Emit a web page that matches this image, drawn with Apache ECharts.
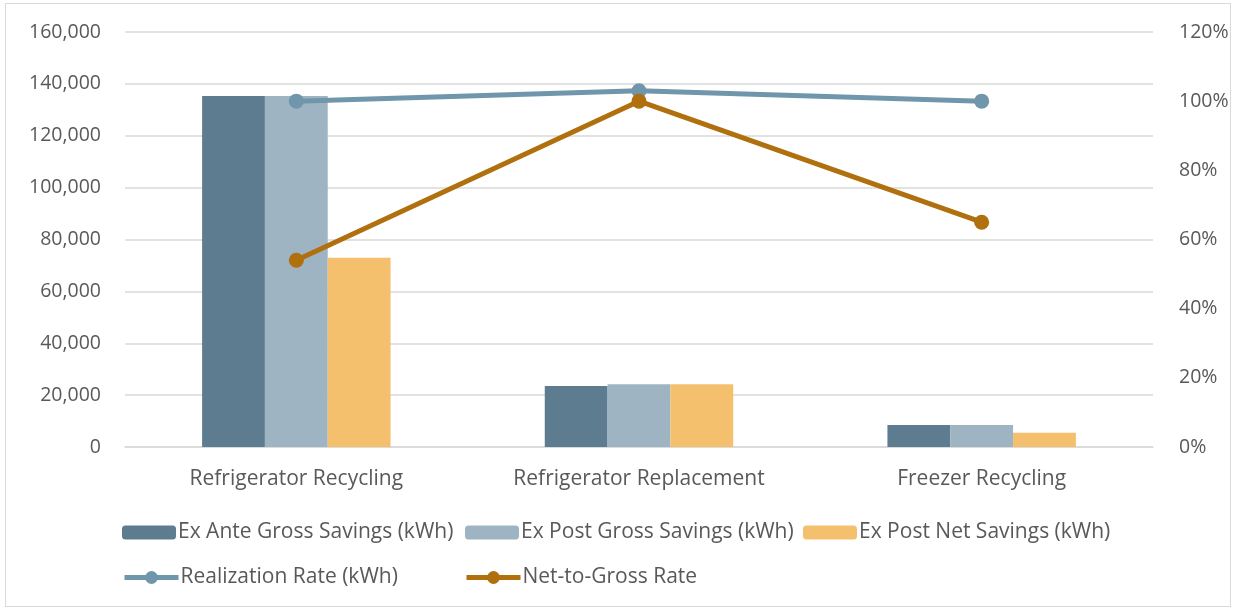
<!DOCTYPE html>
<html>
<head>
<meta charset="utf-8">
<script src="https://cdn.jsdelivr.net/npm/echarts@6/dist/echarts.min.js"></script>
<style>
  html, body { margin: 0; padding: 0; background: #fff; }
  #frame { position: absolute; left: 5px; top: 3px; width: 1226px; height: 604px; border: 1px solid #d9d9d9; box-sizing: border-box; }
  #chart { width: 1238px; height: 611px; }
</style>
</head>
<body>
<div id="frame"></div>
<div id="chart"></div>
<script>
// Program measures
const categories = ['Refrigerator Recycling', 'Refrigerator Replacement', 'Freezer Recycling'];

// Savings, kWh
const exAnteGross = [135300, 23500, 8500];
const exPostGross = [135300, 24200, 8500];
const exPostNet = [73000, 24200, 5500];

// Rates, percent
const realizationRate = [100, 103, 100];
const netToGrossRate = [54, 100, 65];

// Axis ticks
const leftTicks = [0, 20000, 40000, 60000, 80000, 100000, 120000, 140000, 160000];
const rightTicks = [0, 20, 40, 60, 80, 100, 120];

const names = [
  'Ex Ante Gross Savings (kWh)',
  'Ex Post Gross Savings (kWh)',
  'Ex Post Net Savings (kWh)',
  'Realization Rate (kWh)',
  'Net-to-Gross Rate'
];
const colors = ['#5d7c90', '#9fb4c2', '#f4c06e', '#7096ab', '#b0700e'];

const FONT = 'Open Sans';
const TEXT = '#595959';
const GRID = '#d9d9d9';

const chart = echarts.init(document.getElementById('chart'), null, { renderer: 'canvas' });

function legendAt(name, left, top, isLine) {
  const lg = {
    data: [name],
    left: left,
    top: top,
    orient: 'horizontal',
    itemWidth: 54,
    itemHeight: 14,
    itemGap: 6,
    padding: 0,
    selectedMode: false,
    textStyle: { fontFamily: FONT, fontSize: 21, color: TEXT, padding: [0, 0, 0, -3] }
  };
  if (isLine) {
    lg.lineStyle = { width: 5 };
    lg.itemStyle = { borderWidth: 0 };
    lg.itemHeight = 16;
  }
  return lg;
}

const option = {
  animation: false,
  color: colors,
  grid: { left: 125, right: 85, top: 32, bottom: 164, containLabel: false },
  legend: [
    legendAt(names[0], 122, 522, false),
    legendAt(names[1], 465, 522, false),
    legendAt(names[2], 803, 522, false),
    legendAt(names[3], 122, 567, true),
    legendAt(names[4], 464, 567, true)
  ],
  xAxis: {
    type: 'category',
    data: categories,
    axisLine: { lineStyle: { color: GRID, width: 1.5 } },
    axisTick: { show: false },
    axisLabel: { fontFamily: FONT, fontSize: 21, color: TEXT, margin: 22 }
  },
  yAxis: [
    {
      type: 'value',
      min: leftTicks[0],
      max: leftTicks[leftTicks.length - 1],
      interval: leftTicks[1] - leftTicks[0],
      axisLine: { show: false },
      axisTick: { show: false },
      splitLine: { lineStyle: { color: GRID, width: 1.5 } },
      axisLabel: {
        fontFamily: FONT, fontSize: 19.5, color: TEXT, margin: 24,
        formatter: v => v.toLocaleString('en-US')
      }
    },
    {
      type: 'value',
      position: 'right',
      min: rightTicks[0],
      max: rightTicks[rightTicks.length - 1],
      interval: rightTicks[1] - rightTicks[0],
      axisLine: { show: false },
      axisTick: { show: false },
      splitLine: { show: false },
      axisLabel: {
        fontFamily: FONT, fontSize: 19.5, color: TEXT, margin: 26,
        formatter: v => v + '%'
      }
    }
  ],
  series: [
    { name: names[0], type: 'bar', data: exAnteGross, barGap: '0%', barCategoryGap: '45%', itemStyle: { color: colors[0] } },
    { name: names[1], type: 'bar', data: exPostGross, barGap: '0%', barCategoryGap: '45%', itemStyle: { color: colors[1] } },
    { name: names[2], type: 'bar', data: exPostNet, barGap: '0%', barCategoryGap: '45%', itemStyle: { color: colors[2] } },
    {
      name: names[3], type: 'line', yAxisIndex: 1, data: realizationRate,
      symbol: 'circle', symbolSize: 15,
      lineStyle: { color: colors[3], width: 5 },
      itemStyle: { color: colors[3] }
    },
    {
      name: names[4], type: 'line', yAxisIndex: 1, data: netToGrossRate,
      symbol: 'circle', symbolSize: 15,
      lineStyle: { color: colors[4], width: 5 },
      itemStyle: { color: colors[4] }
    }
  ]
};

chart.setOption(option);
</script>
</body>
</html>
